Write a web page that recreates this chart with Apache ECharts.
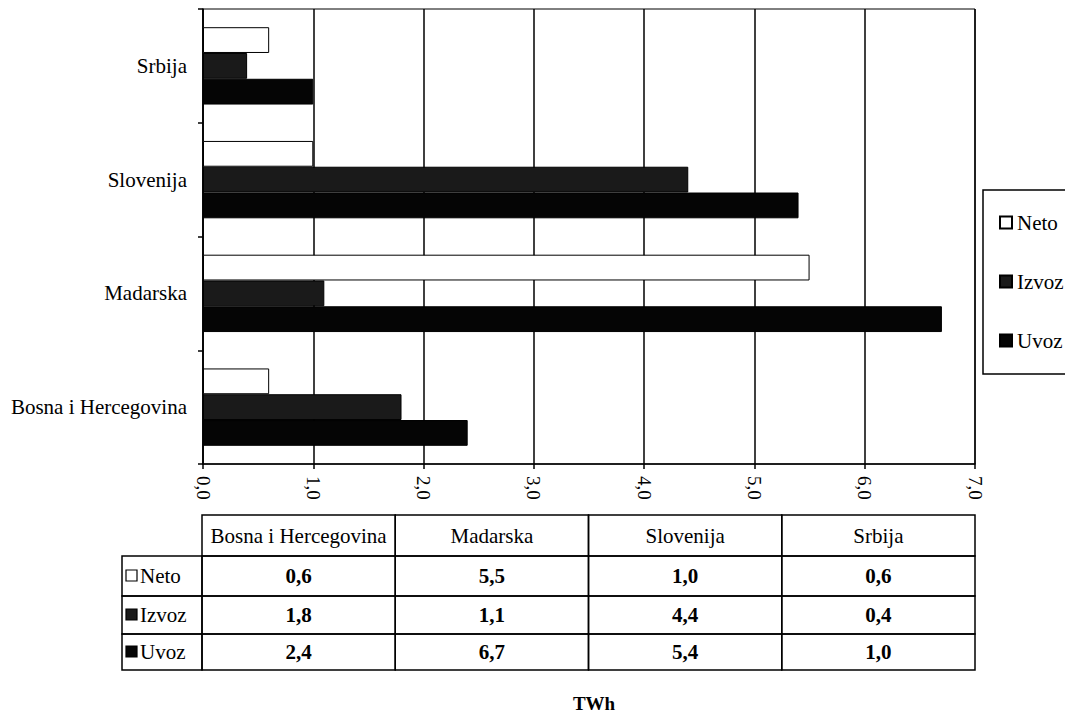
<!DOCTYPE html>
<html><head><meta charset="utf-8">
<script src="https://cdn.jsdelivr.net/npm/echarts@6/dist/echarts.min.js"></script>
<style>html,body{margin:0;padding:0;background:#fff}#c{width:1065px;height:720px}</style>
</head><body><div id="c"></div>
<script>
const categories = ['Bosna i Hercegovina', 'Madarska', 'Slovenija', 'Srbija'];
const seriesNames = ['Neto', 'Izvoz', 'Uvoz'];
const neto = [0.6, 5.5, 1.0, 0.6];
const izvoz = [1.8, 1.1, 4.4, 0.4];
const uvoz = [2.4, 6.7, 5.4, 1.0];
const xTicks = [0, 1, 2, 3, 4, 5, 6, 7];
const unitLabel = 'TWh';

const FONT = '"Liberation Serif", "Times New Roman", serif';
const colors = ['#ffffff', '#1a1a1a', '#050505'];
const values = [neto, izvoz, uvoz];
const fmt = v => Number(v).toFixed(1).replace('.', ',');

const W = 1065, H = 720;
const G = { left: 203, top: 9, right: 975, bottom: 464 };
const T = { left: 122, dataLeft: 202, right: 975, rows: [515, 556, 596, 634, 670] };

const graphics = [];
const colW = (T.right - T.dataLeft) / categories.length;
const lineStyle = { fill: 'none', stroke: '#000', lineWidth: 1.5 };
// header cells
categories.forEach((c, i) => {
  const x = T.dataLeft + i * colW;
  graphics.push({ type: 'rect', shape: { x: x, y: T.rows[0], width: colW, height: T.rows[1] - T.rows[0] }, style: lineStyle });
  graphics.push({ type: 'text', x: x + colW / 2, y: (T.rows[0] + T.rows[1]) / 2,
    style: { text: c, fontFamily: FONT, fontSize: 21, fill: '#000', align: 'center', verticalAlign: 'middle' } });
});
// rows
seriesNames.forEach((s, j) => {
  const y0 = T.rows[j + 1], y1 = T.rows[j + 2];
  graphics.push({ type: 'rect', shape: { x: T.left, y: y0, width: T.dataLeft - T.left, height: y1 - y0 }, style: lineStyle });
  graphics.push({ type: 'rect', shape: { x: T.left + 4, y: (y0 + y1) / 2 - 6, width: 11, height: 11 },
    style: { fill: colors[j], stroke: '#000', lineWidth: 1.2 } });
  graphics.push({ type: 'text', x: T.left + 18, y: (y0 + y1) / 2,
    style: { text: s, fontFamily: FONT, fontSize: 21, fill: '#000', align: 'left', verticalAlign: 'middle' } });
  categories.forEach((c, i) => {
    const x = T.dataLeft + i * colW;
    graphics.push({ type: 'rect', shape: { x: x, y: y0, width: colW, height: y1 - y0 }, style: lineStyle });
    graphics.push({ type: 'text', x: x + colW / 2, y: (y0 + y1) / 2,
      style: { text: fmt(values[j][i]), fontFamily: FONT, fontSize: 21, fontWeight: 'bold', fill: '#000', align: 'center', verticalAlign: 'middle' } });
  });
});
graphics.push({ type: 'text', x: 594, y: 703,
  style: { text: unitLabel, fontFamily: FONT, fontSize: 19, fontWeight: 'bold', fill: '#000', align: 'center', verticalAlign: 'middle' } });

const chart = echarts.init(document.getElementById('c'), null, { renderer: 'svg', width: W, height: H });
chart.setOption({
  backgroundColor: '#fff',
  animation: false,
  grid: { left: G.left, top: G.top, right: W - G.right, bottom: H - G.bottom, show: true, borderColor: '#000', borderWidth: 1, containLabel: false },
  legend: {
    orient: 'vertical', left: 983, top: 190,
    data: seriesNames, icon: 'rect', itemWidth: 12, itemHeight: 12, itemGap: 38,
    padding: [22, 40, 23, 16], borderColor: '#000', borderWidth: 1.5, selectedMode: false,
    textStyle: { fontFamily: FONT, fontSize: 21, color: '#000', lineHeight: 20 }
  },
  xAxis: {
    type: 'value', min: xTicks[0], max: xTicks[xTicks.length - 1], interval: 1,
    axisLine: { show: true, lineStyle: { color: '#000', width: 1.5 } },
    axisTick: { show: true, length: 5, lineStyle: { color: '#000', width: 1.5 } },
    splitLine: { show: true, lineStyle: { color: '#000', width: 1.5 } },
    axisLabel: { rotate: -90, margin: 12, formatter: v => fmt(v), fontFamily: FONT, fontSize: 19, color: '#000' }
  },
  yAxis: {
    type: 'category', data: categories,
    axisLine: { show: true, lineStyle: { color: '#000', width: 1.5 } },
    axisTick: { show: true, length: 5, lineStyle: { color: '#000', width: 1.5 } },
    axisLabel: { margin: 16, fontFamily: FONT, fontSize: 21, color: '#000' },
    splitLine: { show: false }
  },
  series: seriesNames.map((n, j) => ({
    name: n, type: 'bar', data: values[j],
    barCategoryGap: '32%', barGap: '0%',
    itemStyle: { color: colors[j], borderColor: '#000', borderWidth: 1 }
  })),
  graphic: graphics
});
</script></body></html>
